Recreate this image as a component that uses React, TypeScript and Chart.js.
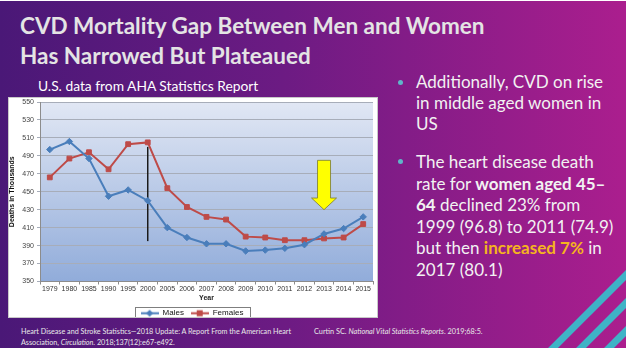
import React, { useEffect, useRef } from "react";
import { Chart, registerables } from "chart.js";
Chart.register(...registerables);

const years = ["1979", "1980", "1985", "1990", "1995", "2000", "2005", "2006", "2007", "2008", "2009", "2010", "2011", "2012", "2013", "2014", "2015"];
const males = [497, 506, 487, 445, 452, 440, 410, 399, 392, 392, 384, 385, 387, 391, 403, 409, 422];
const females = [466, 487, 494, 475, 503, 505, 454, 433, 422, 419, 400, 399, 396, 396, 398, 399, 414];
const yMin = 350;
const yMax = 550;
const yStep = 20;
const dividerYear = "2000";
const dividerFrom = 500;
const dividerTo = 395;
const arrowYear = "2013";
const arrowTop = 485;
const arrowHeadStart = 443;
const arrowTip = 430;

const BLUE = "#4a7ebb";
const RED = "#be4b48";

function makeMarker(color: string, shape: "diamond" | "square") {
  const c = document.createElement("canvas");
  c.width = 18;
  c.height = 9;
  const ctx = c.getContext("2d")!;
  ctx.strokeStyle = color;
  ctx.lineWidth = 2;
  ctx.beginPath();
  ctx.moveTo(0, 4.5);
  ctx.lineTo(18, 4.5);
  ctx.stroke();
  ctx.fillStyle = color;
  if (shape === "square") {
    ctx.fillRect(6, 1.5, 6, 6);
  } else {
    ctx.beginPath();
    ctx.moveTo(9, 1);
    ctx.lineTo(12.5, 4.5);
    ctx.lineTo(9, 8);
    ctx.lineTo(5.5, 4.5);
    ctx.closePath();
    ctx.fill();
  }
  return c;
}

const plotBg = {
  id: "plotBg",
  beforeDraw(chart: any) {
    const { ctx, chartArea: a } = chart;
    const g = ctx.createLinearGradient(0, a.top, 0, a.bottom);
    g.addColorStop(0, "#e1e7f4");
    g.addColorStop(1, "#91acda");
    ctx.save();
    ctx.fillStyle = g;
    ctx.fillRect(a.left, a.top, a.right - a.left, a.bottom - a.top);
    ctx.restore();
  },
};

const divider = {
  id: "divider",
  beforeDatasetsDraw(chart: any) {
    const { ctx, scales } = chart;
    const x = scales.x.getPixelForValue(years.indexOf(dividerYear));
    ctx.save();
    ctx.strokeStyle = "#1a1a1a";
    ctx.lineWidth = 1.5;
    ctx.beginPath();
    ctx.moveTo(x, scales.y.getPixelForValue(dividerFrom));
    ctx.lineTo(x, scales.y.getPixelForValue(dividerTo));
    ctx.stroke();
    ctx.restore();
  },
};

const arrow = {
  id: "arrow",
  afterDatasetsDraw(chart: any) {
    const { ctx, scales } = chart;
    const x = scales.x.getPixelForValue(years.indexOf(arrowYear));
    const yT = scales.y.getPixelForValue(arrowTop);
    const yH = scales.y.getPixelForValue(arrowHeadStart);
    const yP = scales.y.getPixelForValue(arrowTip);
    const sw = 6.5;
    const hw = 12.5;
    ctx.save();
    ctx.beginPath();
    ctx.moveTo(x - sw, yT);
    ctx.lineTo(x + sw, yT);
    ctx.lineTo(x + sw, yH);
    ctx.lineTo(x + hw, yH);
    ctx.lineTo(x, yP);
    ctx.lineTo(x - hw, yH);
    ctx.lineTo(x - sw, yH);
    ctx.closePath();
    ctx.fillStyle = "#ffff00";
    ctx.fill();
    ctx.strokeStyle = "#7a7a30";
    ctx.lineWidth = 0.8;
    ctx.stroke();
    ctx.restore();
  },
};

const legendBorder = {
  id: "legendBorder",
  afterDraw(chart: any) {
    const boxes = chart.legend?.legendHitBoxes;
    if (!boxes || !boxes.length) return;
    let l = Infinity, r = -Infinity, t = Infinity, b = -Infinity;
    for (const h of boxes) {
      l = Math.min(l, h.left);
      r = Math.max(r, h.left + h.width);
      t = Math.min(t, h.top);
      b = Math.max(b, h.top + h.height);
    }
    const { ctx } = chart;
    ctx.save();
    ctx.strokeStyle = "#7f7f7f";
    ctx.lineWidth = 1;
    ctx.strokeRect(Math.round(l - 6) + 0.5, Math.round(t - 2) + 0.5, Math.round(r - l + 12), Math.round(b - t + 3));
    ctx.restore();
  },
};

function MortalityChart() {
  const ref = useRef<HTMLCanvasElement | null>(null);
  useEffect(() => {
    if (!ref.current) return;
    const font = { family: "'Liberation Sans', Arial, sans-serif", size: 7 };
    const chart = new Chart(ref.current, {
      type: "line",
      data: {
        labels: years,
        datasets: [
          {
            label: "Males",
            data: males,
            borderColor: BLUE,
            backgroundColor: BLUE,
            borderWidth: 2,
            pointStyle: "rectRot",
            pointRadius: 3.2,
            pointBorderWidth: 1,
            tension: 0,
          },
          {
            label: "Females",
            data: females,
            borderColor: RED,
            backgroundColor: RED,
            borderWidth: 2,
            pointStyle: "rect",
            pointRadius: 3.4,
            pointBorderWidth: 1,
            tension: 0,
          },
        ],
      },
      options: {
        responsive: false,
        animation: false,
        devicePixelRatio: 1,
        layout: { padding: { top: 2, right: 2, left: 0, bottom: -9.25 } },
        plugins: {
          tooltip: { enabled: false },
          legend: {
            position: "bottom",
            labels: {
              usePointStyle: true,
              pointStyleWidth: 18,
              padding: 6.75,
              color: "#111",
              font: { family: "'Liberation Sans', Arial, sans-serif", size: 8 },
              generateLabels(c: any) {
                const items = Chart.defaults.plugins.legend.labels.generateLabels(c);
                items.forEach((it: any, i: number) => {
                  it.pointStyle = i === 0 ? makeMarker(BLUE, "diamond") : makeMarker(RED, "square");
                });
                return items;
              },
            },
          },
        },
        scales: {
          x: {
            offset: true,
            grid: { offset: true, drawOnChartArea: false, drawTicks: true, tickLength: 3, color: "#8c8c8c" },
            border: { color: "#8c8c8c" },
            ticks: { font, color: "#333", maxRotation: 0, autoSkip: false, padding: 0 },
            title: { display: true, text: "Year", font: { ...font, weight: "bold" }, color: "#222", padding: { top: 0, bottom: 0 } },
            afterFit(scale: any) {
              scale.height = 21;
              scale.paddingLeft = 0;
              scale.paddingRight = 0;
            },
          },
          y: {
            min: yMin,
            max: yMax,
            ticks: { stepSize: yStep, font, color: "#444", padding: 3 },
            grid: { color: "#a7adb9", tickLength: 3 },
            border: { color: "#8c8c8c" },
            title: { display: true, text: "Deaths in Thousands", font: { ...font, weight: "bold" }, color: "#111", padding: 0 },
            afterFit(scale: any) {
              scale.width = 32;
              scale.paddingTop = 0;
              scale.paddingBottom = 0;
            },
          },
        },
      },
      plugins: [plotBg, divider, arrow, legendBorder],
    });
    return () => chart.destroy();
  }, []);
  return (
    <canvas
      ref={ref}
      width={370}
      height={221}
      style={{ position: "absolute", left: 8, top: 97, width: 370, height: 221, background: "#fff", outline: "1px solid #c9c9c9", outlineOffset: -1 }}
    />
  );
}

const txt = "'Lato', 'Open Sans', sans-serif";

export default function App() {
  useEffect(() => {
    document.body.style.margin = "0";
  }, []);
  const bullet = (top: number) => (
    <div style={{ position: "absolute", left: 398, top, width: 5, height: 5, borderRadius: 3, background: "#5fb6c9" }} />
  );
  return (
    <div style={{ position: "absolute", left: 0, top: 0, width: 633, height: 352, background: "#fff", overflow: "hidden" }}>
      <div
        style={{
          position: "absolute",
          left: 0,
          top: 1,
          width: 626,
          height: 347,
          overflow: "hidden",
          background: "linear-gradient(90deg, #4a1877 0%, #6c1b83 45%, #ab1e8e 100%)",
          fontFamily: txt,
        }}
      >
        <svg width={626} height={347} style={{ position: "absolute", left: 0, top: 0 }}>
          {[901, 929, 957].map((c) => (
            <line key={c} x1={c - 400} y1={400 - 1} x2={c - 200} y2={200 - 1} stroke="#3fb3c6" strokeWidth={7} />
          ))}
        </svg>
        <div style={{ position: "absolute", left: 20, top: 10, color: "#e4e4e4", fontSize: 22.5, fontWeight: 700, lineHeight: "30px", whiteSpace: "nowrap" }}>
          CVD Mortality Gap Between Men and Women
          <br />
          Has Narrowed But Plateaued
        </div>
        <div style={{ position: "absolute", left: 38, top: 75, color: "#fff", fontSize: 13.8, lineHeight: "20px", whiteSpace: "nowrap" }}>
          U.S. data from AHA Statistics Report
        </div>
        {bullet(79)}
        {bullet(158)}
        <div style={{ position: "absolute", left: 416, top: 70, color: "#f2f2f2", fontSize: 17, lineHeight: "21px", whiteSpace: "nowrap" }}>
          Additionally, CVD on rise
          <br />
          in middle aged women in
          <br />
          US
        </div>
        <div style={{ position: "absolute", left: 416, top: 150, color: "#f2f2f2", fontSize: 17, lineHeight: "21.5px", whiteSpace: "nowrap" }}>
          The heart disease death
          <br />
          rate for <b>women aged 45–</b>
          <br />
          <b>64</b> declined 23% from
          <br />
          1999 (96.8) to 2011 (74.9)
          <br />
          but then <b style={{ color: "#f5b41e" }}>increased 7%</b> in
          <br />
          2017 (80.1)
        </div>
        <div style={{ position: "absolute", left: 21, top: 325, color: "#e8e8e8", fontSize: 7.2, lineHeight: "11px", whiteSpace: "nowrap" }}>
          Heart Disease and Stroke Statistics—2018 Update: A Report From the American Heart
          <br />
          Association, <i>Circulation</i>. 2018;137(12):e67-e492.
        </div>
        <div style={{ position: "absolute", left: 314, top: 325, color: "#e8e8e8", fontSize: 7.3, lineHeight: "11px", whiteSpace: "nowrap" }}>
          Curtin SC. <i>National Vital Statistics Reports</i>. 2019;68:5.
        </div>
      </div>
      <MortalityChart />
    </div>
  );
}
